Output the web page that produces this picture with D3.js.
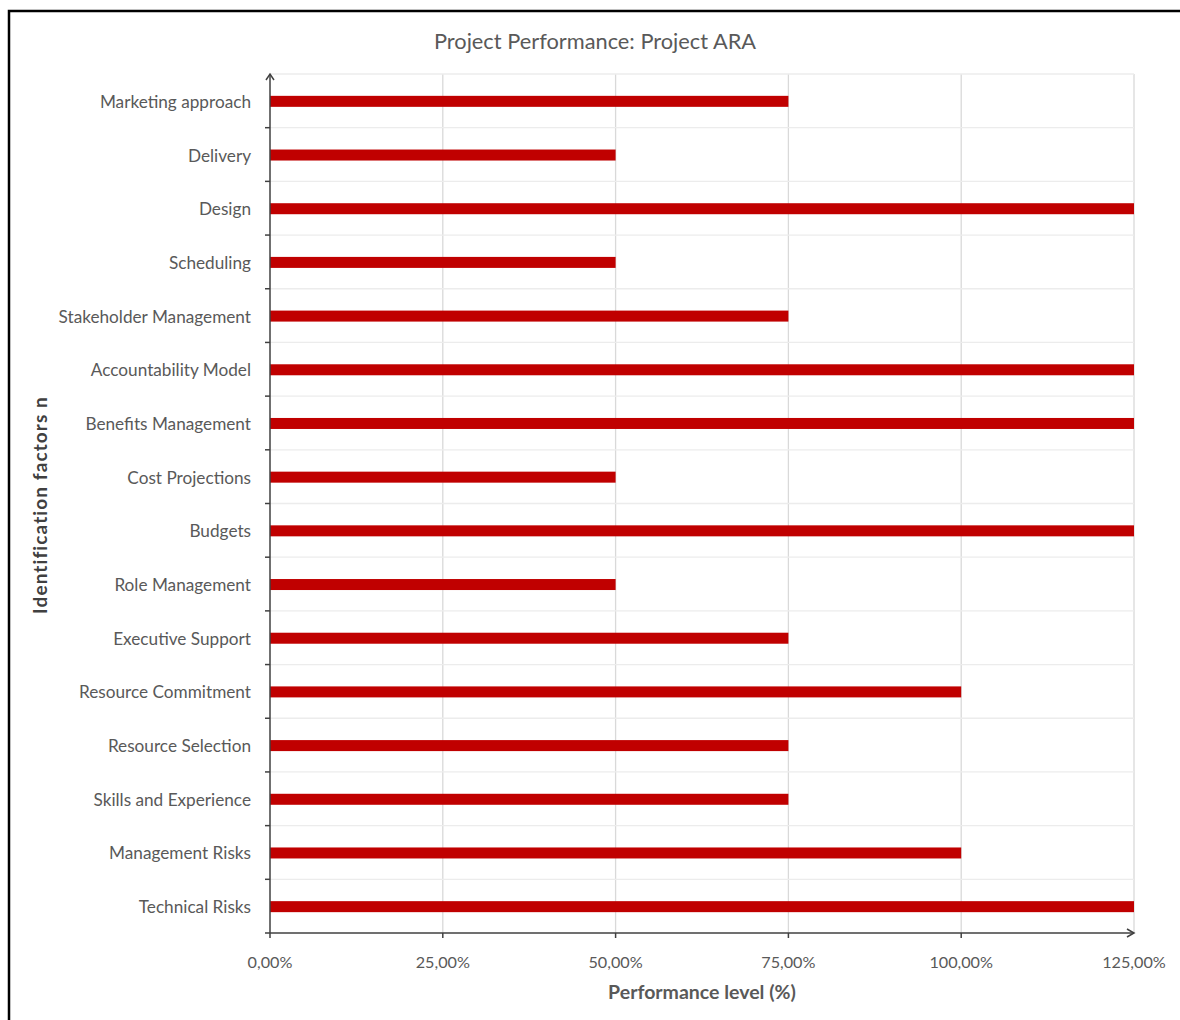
<!DOCTYPE html>
<html>
<head>
<meta charset="utf-8">
<script src="https://cdn.jsdelivr.net/npm/d3@7"></script>
<style>
  html, body { margin: 0; padding: 0; background: #fff; }
  svg { display: block; }
  text { font-family: Lato, "Open Sans", sans-serif; }
</style>
</head>
<body>
<script>
// Identification factors, listed top to bottom
const categories = [
  "Marketing approach", "Delivery", "Design", "Scheduling",
  "Stakeholder Management", "Accountability Model", "Benefits Management",
  "Cost Projections", "Budgets", "Role Management", "Executive Support",
  "Resource Commitment", "Resource Selection", "Skills and Experience",
  "Management Risks", "Technical Risks"
];
// Performance level per factor (%)
const values = [75, 50, 125, 50, 75, 125, 125, 50, 125, 50, 75, 100, 75, 75, 100, 125];
// X axis ticks (%)
const xTicks = [0, 25, 50, 75, 100, 125];

const W = 1180, H = 1020;
const margin = { left: 270, right: 46, top: 74, bottom: 87 };

const svg = d3.select("body").append("svg").attr("width", W).attr("height", H);

// outer frame
svg.append("rect").attr("x", 9).attr("y", 11).attr("width", W + 20).attr("height", H + 20)
  .attr("fill", "none").attr("stroke", "#000").attr("stroke-width", 2.5);

const x = d3.scaleLinear().domain([0, 125]).range([margin.left, W - margin.right]);
const y = d3.scaleBand().domain(categories).range([margin.top, H - margin.bottom]).paddingInner(0).paddingOuter(0);

// vertical gridlines
svg.append("g").selectAll("line").data(xTicks.slice(1)).join("line")
  .attr("x1", d => x(d)).attr("x2", d => x(d))
  .attr("y1", margin.top).attr("y2", H - margin.bottom)
  .attr("stroke", "#d9d9d9").attr("stroke-width", 1.3);

// horizontal gridlines at category boundaries
const bounds = categories.map(c => y(c));
svg.append("g").selectAll("line").data(bounds).join("line")
  .attr("x1", margin.left).attr("x2", x(125))
  .attr("y1", d => d).attr("y2", d => d)
  .attr("stroke", "#ececec").attr("stroke-width", 1.3);

// bars
const barH = 11;
svg.append("g").selectAll("rect").data(categories).join("rect")
  .attr("x", x(0))
  .attr("y", (d) => y(d) + y.bandwidth() / 2 - barH / 2 + 0.5)
  .attr("width", (d, i) => x(values[i]) - x(0))
  .attr("height", barH)
  .attr("fill", "#c00000");

// y axis with ticks at category boundaries
const axisColor = "#404040";
const yAxisG = svg.append("g");
yAxisG.append("line")
  .attr("x1", x(0)).attr("x2", x(0))
  .attr("y1", margin.top).attr("y2", H - margin.bottom)
  .attr("stroke", axisColor).attr("stroke-width", 1.5);
yAxisG.selectAll("line.tk").data(bounds.slice(1).concat([H - margin.bottom])).join("line")
  .attr("class", "tk")
  .attr("x1", x(0) - 5).attr("x2", x(0))
  .attr("y1", d => d).attr("y2", d => d)
  .attr("stroke", axisColor).attr("stroke-width", 1.5);
// arrow head at top
yAxisG.append("path")
  .attr("d", `M${x(0) - 4},${margin.top + 6} L${x(0)},${margin.top} L${x(0) + 4},${margin.top + 6}`)
  .attr("fill", "none").attr("stroke", axisColor).attr("stroke-width", 1.5);

// category labels
yAxisG.selectAll("text").data(categories).join("text")
  .attr("x", x(0) - 19)
  .attr("y", d => y(d) + y.bandwidth() / 2 + 1)
  .attr("dy", "0.35em")
  .attr("text-anchor", "end")
  .attr("font-size", 17.2)
  .attr("fill", "#595959")
  .text(d => d);

// x axis
const xAxisG = svg.append("g");
const y0 = H - margin.bottom;
xAxisG.append("line")
  .attr("x1", x(0)).attr("x2", x(125))
  .attr("y1", y0).attr("y2", y0)
  .attr("stroke", axisColor).attr("stroke-width", 1.5);
xAxisG.selectAll("line.tk").data(xTicks.slice(0, -1)).join("line")
  .attr("class", "tk")
  .attr("x1", d => x(d)).attr("x2", d => x(d))
  .attr("y1", y0).attr("y2", y0 + 5)
  .attr("stroke", axisColor).attr("stroke-width", 1.5);
xAxisG.append("path")
  .attr("d", `M${x(125) - 7},${y0 - 4} L${x(125)},${y0} L${x(125) - 7},${y0 + 4}`)
  .attr("fill", "none").attr("stroke", axisColor).attr("stroke-width", 1.5);

const fmt = d => d.toFixed(2).replace(".", ",") + "%";
xAxisG.selectAll("text").data(xTicks).join("text")
  .attr("x", d => x(d))
  .attr("y", y0 + 35)
  .attr("text-anchor", "middle")
  .attr("font-size", 16.2)
  .attr("fill", "#595959")
  .text(fmt);

// title
svg.append("text")
  .attr("x", 595).attr("y", 49)
  .attr("text-anchor", "middle")
  .attr("font-size", 21.8)
  .attr("fill", "#595959")
  .text("Project Performance: Project ARA");

// axis titles
svg.append("text")
  .attr("x", 702).attr("y", 999)
  .attr("text-anchor", "middle")
  .attr("font-size", 19.5)
  .attr("font-weight", "bold")
  .attr("fill", "#595959")
  .text("Performance level (%)");

svg.append("text")
  .attr("transform", `translate(47,505) rotate(-90)`)
  .attr("text-anchor", "middle")
  .attr("font-family", "'Open Sans', sans-serif")
  .attr("font-size", 19)
  .attr("font-weight", "bold")
  .attr("letter-spacing", 1.1)
  .attr("fill", "#404040")
  .text("Identification factors n");
</script>
</body>
</html>
